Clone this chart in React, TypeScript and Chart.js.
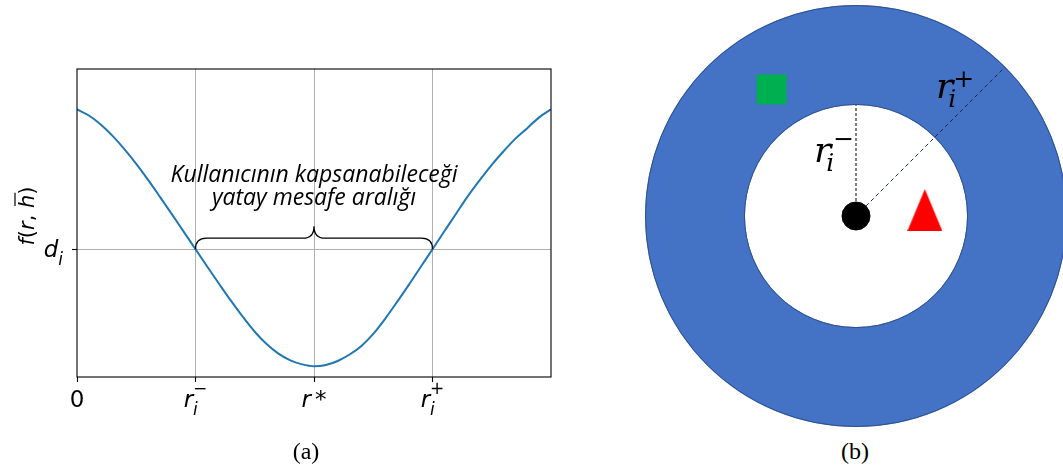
import { useEffect, useRef } from 'react';
import { Chart, registerables } from 'chart.js';

Chart.register(...registerables);

// ---- Panel (a): coverage function against horizontal distance ----
const rSamples = [
  0.0, 0.1, 0.2, 0.3, 0.4, 0.5, 0.6, 0.7, 0.8, 0.9,
  1.0, 1.1, 1.2, 1.3, 1.4, 1.5, 1.6, 1.7, 1.8, 1.9,
  2.0, 2.1, 2.2, 2.3, 2.4, 2.5, 2.6, 2.7, 2.8, 2.9,
  3.0, 3.1, 3.2, 3.3, 3.4, 3.5, 3.6, 3.7, 3.8, 3.9, 4.0,
];
const fSamples = [
  0.869, 0.849, 0.820, 0.783, 0.740, 0.692, 0.640, 0.585, 0.529, 0.472,
  0.415, 0.358, 0.302, 0.247, 0.195, 0.147, 0.107, 0.076, 0.054, 0.041,
  0.035, 0.039, 0.052, 0.073, 0.101, 0.140, 0.189, 0.243, 0.299, 0.357,
  0.415, 0.473, 0.531, 0.588, 0.640, 0.689, 0.733, 0.774, 0.808, 0.843, 0.869,
];
const xTickValues = [0, 1, 2, 3];
const xTickLabels = [
  { base: '0', italic: false },
  { base: 'r', sub: 'i', sup: '\u2212' },
  { base: 'r', op: '*' },
  { base: 'r', sub: 'i', sup: '+' },
];
const dLevel = 0.415;
const dLabel = { base: 'd', sub: 'i' };
const braceFrom = 1;
const braceTo = 3;
const rangeNote = ['Kullanıcının kapsanabileceği', 'yatay mesafe aralığı'];

// ---- Panel (b): coverage ring around the station ----
const innerRadius = 1.0;
const outerRadius = 1.9;
const station = { x: 0, y: 0 };
const plusEnd = { x: 1.34, y: 1.34 };
const squareUser = { x: -0.76, y: 1.14 };
const triangleUser = { x: 0.62, y: 0.054 };
const minusLabelAt = { x: -0.378, y: 0.486 };
const plusLabelAt = { x: 0.72, y: 1.063 };

type MathSpec = {
  base: string; italic?: boolean; sub?: string; sup?: string; op?: string;
  supDx?: number; supDy?: number;
};
type MathStyle = {
  family: string; size: number; small: number;
  subDx: number; subDy: number; supDx: number; supDy: number; opGap: number;
};

function drawMath(
  ctx: CanvasRenderingContext2D, spec: MathSpec, x: number, y: number,
  st: MathStyle, align: 'left' | 'center' | 'right',
) {
  const big = `${spec.italic === false ? '' : 'italic '}${st.size}px ${st.family}`;
  const small = `italic ${st.small}px ${st.family}`;
  const smallUp = `${st.small}px ${st.family}`;
  const upright = `${st.size}px ${st.family}`;
  const supDx = spec.supDx ?? st.supDx;
  const supDy = spec.supDy ?? st.supDy;
  ctx.font = big;
  const bw = ctx.measureText(spec.base).width;
  let subW = 0, supW = 0, opW = 0;
  if (spec.sub) { ctx.font = small; subW = ctx.measureText(spec.sub).width + st.subDx; }
  if (spec.sup) { ctx.font = smallUp; supW = ctx.measureText(spec.sup).width + supDx; }
  if (spec.op) { ctx.font = upright; opW = ctx.measureText(spec.op).width + st.opGap; }
  const total = bw + Math.max(subW, supW, opW);
  const x0 = align === 'center' ? x - total / 2 : align === 'right' ? x - total : x;
  ctx.textAlign = 'left';
  ctx.textBaseline = 'alphabetic';
  ctx.font = big;
  ctx.fillText(spec.base, x0, y);
  if (spec.sub) { ctx.font = small; ctx.fillText(spec.sub, x0 + bw + st.subDx, y + st.subDy); }
  if (spec.sup) { ctx.font = smallUp; ctx.fillText(spec.sup, x0 + bw + supDx, y - supDy); }
  if (spec.op) { ctx.font = upright; ctx.fillText(spec.op, x0 + bw + st.opGap, y); }
}

const tickStyle: MathStyle = {
  family: '"DejaVu Sans"', size: 23, small: 17,
  subDx: 0, subDy: 8, supDx: 0, supDy: 13, opGap: 4,
};
const ringStyle: MathStyle = {
  family: '"DejaVu Serif"', size: 36, small: 25,
  subDx: -5, subDy: 9, supDx: 2, supDy: 12, opGap: 0,
};

const panelAPlugin = {
  id: 'panelA',
  afterDraw(chart: any) {
    const { ctx, chartArea: a, scales } = chart;
    const x = scales.x, y = scales.y;
    ctx.save();
    ctx.fillStyle = '#000';
    ctx.strokeStyle = '#000';
    ctx.lineWidth = 1.1;
    ctx.strokeRect(a.left, a.top, a.right - a.left, a.bottom - a.top);

    // tick labels
    const base = a.bottom + 30;
    xTickLabels.forEach((lab, i) => {
      drawMath(ctx, lab, x.getPixelForValue(xTickValues[i]), base, tickStyle, 'center');
    });
    const dPix = y.getPixelForValue(dLevel);
    drawMath(ctx, dLabel, a.left - 14, dPix + 8, tickStyle, 'right');

    // axis title f(r, h̄)
    ctx.save();
    ctx.translate(34, (a.top + a.bottom) / 2 - 7);
    ctx.rotate(-Math.PI / 2);
    const fam = '"DejaVu Sans"';
    const pieces = [
      { t: 'f', it: true }, { t: '(', it: false }, { t: 'r', it: true },
      { t: ', ', it: false }, { t: 'h', it: true, bar: true }, { t: ')', it: false },
    ];
    let w = 0;
    pieces.forEach(p => { ctx.font = `${p.it ? 'italic ' : ''}21px ${fam}`; w += ctx.measureText(p.t).width; });
    let cx = -w / 2;
    ctx.textAlign = 'left';
    pieces.forEach(p => {
      ctx.font = `${p.it ? 'italic ' : ''}21px ${fam}`;
      const pw = ctx.measureText(p.t).width;
      ctx.fillText(p.t, cx, 0);
      if (p.bar) {
        ctx.lineWidth = 1.2;
        ctx.beginPath();
        ctx.moveTo(cx + 2, -19);
        ctx.lineTo(cx + pw + 2, -19);
        ctx.stroke();
      }
      cx += pw;
    });
    ctx.restore();

    // brace over the covered interval
    const xa = x.getPixelForValue(braceFrom);
    const xb = x.getPixelForValue(braceTo);
    const xm = (xa + xb) / 2;
    const yb = dPix, yh = dPix - 11, yc = dPix - 23, rr = 11;
    ctx.lineWidth = 1.3;
    ctx.beginPath();
    ctx.moveTo(xa, yb);
    ctx.quadraticCurveTo(xa, yh, xa + rr, yh);
    ctx.lineTo(xm - rr, yh);
    ctx.quadraticCurveTo(xm, yh, xm, yc);
    ctx.quadraticCurveTo(xm, yh, xm + rr, yh);
    ctx.lineTo(xb - rr, yh);
    ctx.quadraticCurveTo(xb, yh, xb, yb);
    ctx.stroke();

    ctx.font = 'italic 23px "Open Sans"';
    ctx.textAlign = 'center';
    ctx.fillText(rangeNote[0], xm, dPix - 67);
    ctx.fillText(rangeNote[1], xm, dPix - 44);
    ctx.restore();
  },
};

const ringOutlinePlugin = {
  id: 'ringOutline',
  afterDatasetsDraw(chart: any) {
    const arc = chart.getDatasetMeta(0).data[0];
    if (!arc) return;
    const { ctx } = chart;
    ctx.save();
    ctx.strokeStyle = '#2F528F';
    ctx.lineWidth = 1;
    ctx.beginPath();
    ctx.arc(arc.x, arc.y, arc.outerRadius - 0.5, 0, Math.PI * 2);
    ctx.stroke();
    ctx.beginPath();
    ctx.arc(arc.x, arc.y, arc.innerRadius + 0.5, 0, Math.PI * 2);
    ctx.stroke();
    ctx.restore();
  },
};

const ringLabelPlugin = {
  id: 'ringLabels',
  afterDraw(chart: any) {
    const { ctx, scales } = chart;
    ctx.save();
    ctx.fillStyle = '#000';
    const put = (at: { x: number; y: number }, spec: MathSpec) => {
      drawMath(ctx, spec, scales.x.getPixelForValue(at.x), scales.y.getPixelForValue(at.y), ringStyle, 'left');
    };
    put(minusLabelAt, { base: 'r', sub: 'i', sup: '\u2212', supDx: 2, supDy: 15 });
    put(plusLabelAt, { base: 'r', sub: 'i', sup: '+', supDx: 0, supDy: 11 });
    ctx.restore();
  },
};

function makeTriangle(): HTMLCanvasElement {
  const c = document.createElement('canvas');
  c.width = 35;
  c.height = 42;
  const g = c.getContext('2d')!;
  g.fillStyle = '#FF0000';
  g.beginPath();
  g.moveTo(17.5, 0);
  g.lineTo(35, 42);
  g.lineTo(0, 42);
  g.closePath();
  g.fill();
  return c;
}

export default function App() {
  const lineRef = useRef<HTMLCanvasElement>(null);
  const ringRef = useRef<HTMLCanvasElement>(null);
  const markRef = useRef<HTMLCanvasElement>(null);

  useEffect(() => {
    const lineChart = new Chart(lineRef.current!, {
      type: 'scatter',
      data: {
        datasets: [{
          data: rSamples.map((r, i) => ({ x: r, y: fSamples[i] })),
          showLine: true,
          borderColor: '#1f77b4',
          borderWidth: 2,
          pointRadius: 0,
          cubicInterpolationMode: 'monotone',
          fill: false,
        }],
      },
      options: {
        animation: false,
        responsive: false,
        events: [],
        layout: { autoPadding: false, padding: { left: 72, top: 69, right: 89, bottom: 88 } },
        plugins: { legend: { display: false }, tooltip: { enabled: false } },
        scales: {
          x: {
            type: 'linear', min: 0, max: 4,
            afterBuildTicks: (s: any) => { s.ticks = xTickValues.map(v => ({ value: v })); },
            ticks: { display: false },
            border: { display: false },
            grid: {
              color: (c: any) => (c.tick && c.tick.value === 0 ? 'rgba(0,0,0,0)' : '#b0b0b0'),
              lineWidth: 1, tickLength: 5, tickColor: '#000', tickWidth: 1.1,
            },
          },
          y: {
            type: 'linear', min: 0, max: 1,
            afterBuildTicks: (s: any) => { s.ticks = [{ value: dLevel }]; },
            ticks: { display: false },
            border: { display: false },
            grid: { color: '#b0b0b0', lineWidth: 1, tickLength: 5, tickColor: '#000', tickWidth: 1.1 },
          },
        },
      },
      plugins: [panelAPlugin],
    } as any);

    const ringChart = new Chart(ringRef.current!, {
      type: 'doughnut',
      data: {
        labels: ['kapsama'],
        datasets: [{ data: [1], backgroundColor: '#4472C4', borderWidth: 0 }],
      },
      options: {
        animation: false,
        responsive: false,
        events: [],
        cutout: `${(innerRadius / outerRadius) * 100}%`,
        layout: { padding: 0 },
        plugins: { legend: { display: false }, tooltip: { enabled: false } },
      },
      plugins: [ringOutlinePlugin],
    } as any);

    const markChart = new Chart(markRef.current!, {
      type: 'scatter',
      data: {
        datasets: [
          {
            data: [station],
            pointStyle: 'circle', pointRadius: 14, backgroundColor: '#000',
            borderColor: '#000', borderWidth: 1, order: 0,
          },
          {
            data: [squareUser],
            pointStyle: 'rect', pointRadius: 21.2, backgroundColor: '#00B050',
            borderWidth: 0, order: 1,
          },
          {
            data: [triangleUser],
            pointStyle: makeTriangle(), pointRadius: 20, order: 1,
          },
          {
            data: [station, { x: 0, y: innerRadius }],
            showLine: true, borderColor: '#000', borderWidth: 1, borderDash: [3, 2],
            pointRadius: 0, order: 2,
          },
          {
            data: [station, plusEnd],
            showLine: true, borderColor: '#1b2a44', borderWidth: 1, borderDash: [4, 3],
            pointRadius: 0, order: 2,
          },
        ],
      },
      options: {
        animation: false,
        responsive: false,
        events: [],
        layout: { autoPadding: false, padding: 0 },
        plugins: { legend: { display: false }, tooltip: { enabled: false } },
        scales: {
          x: { type: 'linear', min: -outerRadius, max: outerRadius, display: false },
          y: { type: 'linear', min: -outerRadius, max: outerRadius, display: false },
        },
      },
      plugins: [ringLabelPlugin],
    } as any);

    return () => {
      lineChart.destroy();
      ringChart.destroy();
      markChart.destroy();
    };
  }, []);

  const caption: React.CSSProperties = {
    position: 'absolute', top: 439, width: 80, textAlign: 'center',
    font: '24px/24px "Liberation Serif"', color: '#000',
  };

  return (
    <div style={{ position: 'absolute', left: 0, top: 0, width: 1063, height: 470, overflow: 'hidden', background: '#fff' }}>
      <canvas ref={lineRef} width={640} height={470} style={{ position: 'absolute', left: 0, top: 0 }} />
      <canvas ref={ringRef} width={422} height={422} style={{ position: 'absolute', left: 645, top: 5 }} />
      <canvas ref={markRef} width={422} height={422} style={{ position: 'absolute', left: 645, top: 5 }} />
      <div style={{ ...caption, left: 266 }}>(a)</div>
      <div style={{ ...caption, left: 815 }}>(b)</div>
    </div>
  );
}
